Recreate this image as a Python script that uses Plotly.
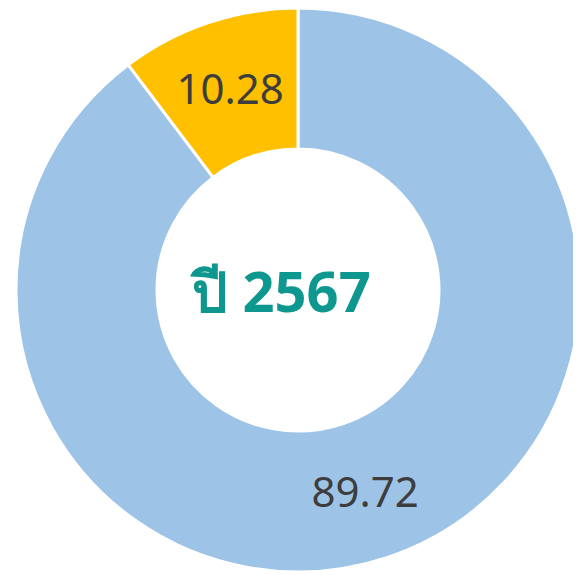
import plotly.graph_objects as go

categories = ["กลุ่ม B", "กลุ่ม A"]
values = [89.72, 10.28]
colors = ["#9DC3E6", "#FFC000"]
center_label = "ปี 2567"

dom_x = [8/581, 572/581]
dom_y = [11/575, 1]

fig = go.Figure(go.Pie(
    labels=categories,
    values=values,
    hole=0.5,
    sort=False,
    direction="clockwise",
    rotation=0,
    marker=dict(colors=colors, line=dict(color="white", width=3)),
    texttemplate="%{value:.2f}",
    textposition="inside",
    insidetextorientation="horizontal",
    textfont=dict(family="Noto Sans, Open Sans, sans-serif", size=42, color="#3d3d3d"),
    domain=dict(x=dom_x, y=dom_y),
    showlegend=False,
    hoverinfo="skip",
))

fig.add_annotation(
    text=f"<b>{center_label}</b>",
    x=(dom_x[0] + dom_x[1]) / 2 - 0.03, y=(dom_y[0] + dom_y[1]) / 2,
    xref="paper", yref="paper", showarrow=False,
    font=dict(family="Noto Sans, sans-serif", size=56, color="#0E978F"),
)

fig.update_layout(
    width=581, height=575,
    margin=dict(l=0, r=0, t=0, b=0),
    paper_bgcolor="white", plot_bgcolor="white",
)

fig.write_html("out.html")
